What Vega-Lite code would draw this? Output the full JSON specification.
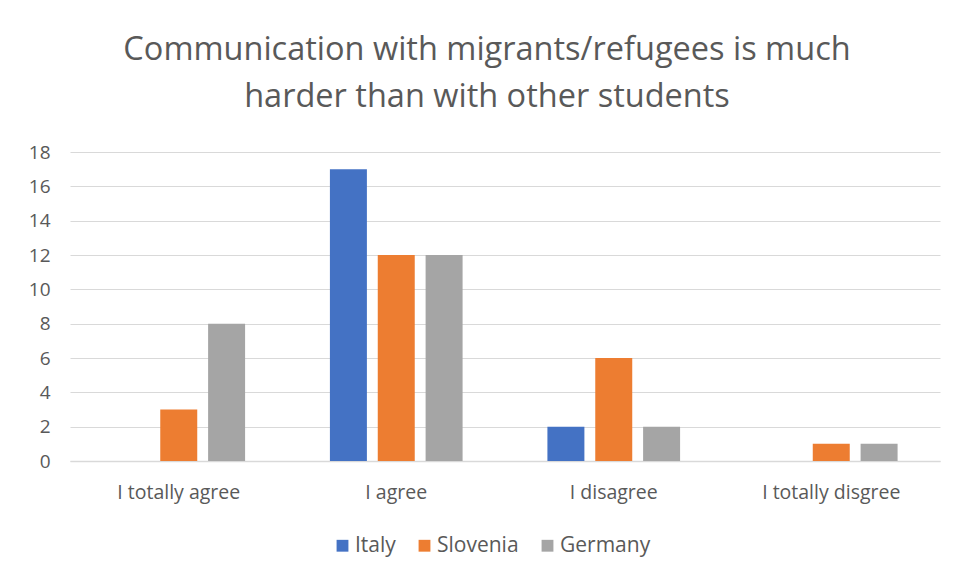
{
  "$schema": "https://vega.github.io/schema/vega-lite/v6.json",
  "width": 870,
  "height": 309,
  "autosize": {"type": "none"},
  "padding": {"left": 70, "top": 152, "right": 15, "bottom": 117},
  "background": "white",
  "title": {
    "text": ["Communication with migrants/refugees is much", "harder than with other students"],
    "font": "Open Sans",
    "fontSize": 32.5,
    "fontWeight": "normal",
    "color": "#595959",
    "anchor": "middle",
    "dx": -18,
    "lineHeight": 47,
    "offset": 30
  },
  "data": {
    "values": [
      {"category": "I totally agree", "country": "Italy", "value": 0},
      {"category": "I totally agree", "country": "Slovenia", "value": 3},
      {"category": "I totally agree", "country": "Germany", "value": 8},
      {"category": "I agree", "country": "Italy", "value": 17},
      {"category": "I agree", "country": "Slovenia", "value": 12},
      {"category": "I agree", "country": "Germany", "value": 12},
      {"category": "I disagree", "country": "Italy", "value": 2},
      {"category": "I disagree", "country": "Slovenia", "value": 6},
      {"category": "I disagree", "country": "Germany", "value": 2},
      {"category": "I totally disgree", "country": "Italy", "value": 0},
      {"category": "I totally disgree", "country": "Slovenia", "value": 1},
      {"category": "I totally disgree", "country": "Germany", "value": 1}
    ]
  },
  "mark": {"type": "bar"},
  "encoding": {
    "x": {
      "field": "category",
      "type": "nominal",
      "sort": ["I totally agree", "I agree", "I disagree", "I totally disgree"],
      "scale": {"paddingInner": 0.39, "paddingOuter": 0.195},
      "axis": {
        "title": null,
        "labelAngle": 0,
        "labelFont": "Open Sans",
        "labelFontSize": 19.5,
        "labelColor": "#595959",
        "labelPadding": 22,
        "ticks": false,
        "domainColor": "#d9d9d9",
        "domainWidth": 1.5
      }
    },
    "xOffset": {
      "field": "country",
      "type": "nominal",
      "sort": ["Italy", "Slovenia", "Germany"],
      "scale": {"paddingInner": 0.227, "paddingOuter": 0}
    },
    "y": {
      "field": "value",
      "type": "quantitative",
      "scale": {"domain": [0, 18], "nice": false},
      "axis": {
        "title": null,
        "values": [0, 2, 4, 6, 8, 10, 12, 14, 16, 18],
        "labelFont": "Open Sans",
        "labelFontSize": 19,
        "labelColor": "#595959",
        "labelPadding": 20,
        "ticks": false,
        "domain": false,
        "gridColor": "#d9d9d9",
        "gridWidth": 1.2
      }
    },
    "color": {
      "field": "country",
      "type": "nominal",
      "sort": ["Italy", "Slovenia", "Germany"],
      "scale": {"domain": ["Italy", "Slovenia", "Germany"], "range": ["#4472C4", "#ED7D31", "#A5A5A5"]},
      "legend": {
        "title": null,
        "orient": "none",
        "direction": "horizontal",
        "legendX": 262,
        "legendY": 383,
        "symbolType": "square",
        "symbolSize": 140,
        "symbolStrokeWidth": 0,
        "labelFont": "Open Sans",
        "labelFontSize": 21,
        "labelColor": "#595959",
        "columnPadding": 18,
        "labelOffset": 2
      }
    }
  },
  "config": {"view": {"stroke": null}}
}
